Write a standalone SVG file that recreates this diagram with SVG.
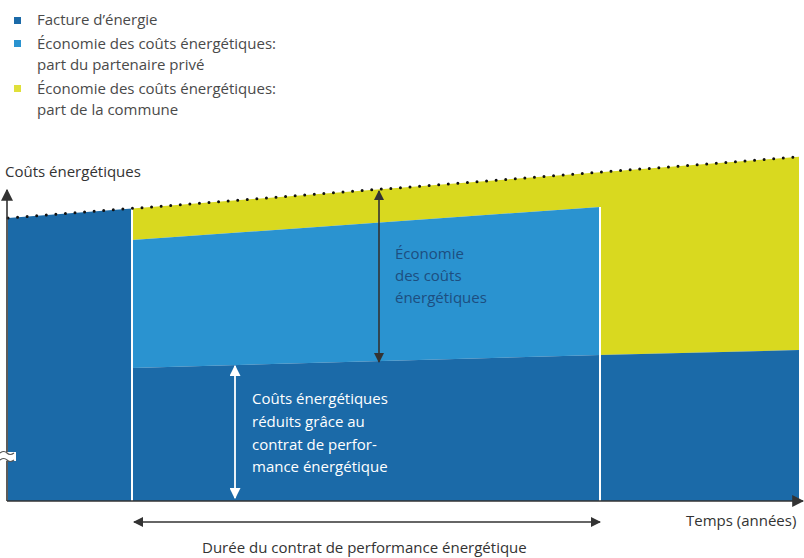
<svg xmlns="http://www.w3.org/2000/svg" width="804" height="558" viewBox="0 0 804 558">
<defs>
<style>
.t{font-family:"Open Sans","Noto Sans","Liberation Sans",sans-serif;font-size:15px;}
.lg{fill:#4a4a4a;}
.ax{fill:#333;}
.dk{fill:#1b6aa8;}
.lb{fill:#2a93d0;}
.yl{fill:#d9d91f;}
.sep{stroke:#fff;stroke-width:2;}
</style>
<marker id="ah" viewBox="0 0 10 10" refX="9" refY="5" markerWidth="10" markerHeight="10" markerUnits="userSpaceOnUse" orient="auto-start-reverse">
<path d="M0,0 L10,5 L0,10 z" fill="#333"/>
</marker>
<marker id="ahw" viewBox="0 0 10 10" refX="9" refY="5" markerWidth="11" markerHeight="11" markerUnits="userSpaceOnUse" orient="auto-start-reverse">
<path d="M0,0 L10,5 L0,10 z" fill="#fff"/>
</marker>
<marker id="axh" viewBox="0 0 10 10" refX="9" refY="5" markerWidth="12" markerHeight="12" markerUnits="userSpaceOnUse" orient="auto">
<path d="M0,0 L10,5 L0,10 z" fill="#333"/>
</marker>
</defs>
<rect width="804" height="558" fill="#fff"/>

<g id="legend" class="t lg">
<rect x="14" y="17" width="7" height="7" class="dk"/>
<text x="37" y="25">Facture d’énergie</text>
<rect x="14" y="40" width="7" height="7" class="lb"/>
<text x="37" y="49">Économie des coûts énergétiques:</text>
<text x="37" y="70">part du partenaire privé</text>
<rect x="14" y="85" width="7" height="7" fill="#e0e03a"/>
<text x="37" y="94">Économie des coûts énergétiques:</text>
<text x="37" y="115">part de la commune</text>
</g>

<g id="areas">
<polygon class="dk" points="8,218 132,208.4 132,501 8,501"/>
<polygon class="yl" points="132,208.4 600,172.2 600,207 132,240"/>
<polygon class="lb" points="132,240 600,207 600,355 132,368"/>
<polygon class="dk" points="132,368 600,355 600,501 132,501"/>
<polygon class="yl" points="600,172.2 799,156.8 799,350 600,355"/>
<polygon class="dk" points="600,355 799,350 799,501 600,501"/>
<line class="sep" x1="132" y1="208" x2="132" y2="501"/>
<line class="sep" x1="600" y1="207" x2="600" y2="501"/>
<line x1="8" y1="218" x2="799" y2="156.8" stroke="#111" stroke-width="3" stroke-linecap="round" stroke-dasharray="0 9.6"/>
</g>

<g id="axes" fill="none" stroke="#333" stroke-width="1.6">
<line x1="7" y1="501" x2="7" y2="190" marker-end="url(#axh)"/>
<line x1="7" y1="501" x2="803" y2="501" marker-end="url(#axh)"/>
<rect x="0" y="452" width="16" height="9" fill="#fff" stroke="none"/>
<path d="M0,453 q4,-3 7,0 t7,0" stroke="#555" stroke-width="1.2"/>
<path d="M0,460 q4,-3 7,0 t7,0" stroke="#555" stroke-width="1.2"/>
</g>

<g id="connectors" fill="none">
<line x1="379" y1="191" x2="379" y2="362" stroke="#333" stroke-width="1.6" marker-start="url(#ah)" marker-end="url(#ah)"/>
<line x1="235" y1="366" x2="235" y2="498" stroke="#fff" stroke-width="1.8" marker-start="url(#ahw)" marker-end="url(#ahw)"/>
<line x1="134" y1="522" x2="600" y2="522" stroke="#333" stroke-width="1.6" marker-start="url(#ah)" marker-end="url(#ah)"/>
</g>

<g id="label-yaxis" class="t ax"><text x="5" y="177">Coûts énergétiques</text></g>
<g id="label-xaxis" class="t ax"><text x="686" y="526">Temps (années)</text></g>
<g id="label-duree" class="t ax"><text x="202" y="553">Durée du contrat de performance énergétique</text></g>
<g id="label-economie" class="t" fill="#1d4e80">
<text x="395" y="259">Économie</text>
<text x="395" y="281">des coûts</text>
<text x="395" y="303">énergétiques</text>
</g>
<g id="label-reduits" class="t" fill="#fff">
<text x="252" y="404">Coûts énergétiques</text>
<text x="252" y="427">réduits grâce au</text>
<text x="252" y="450">contrat de perfor-</text>
<text x="252" y="472">mance énergétique</text>
</g>
</svg>
